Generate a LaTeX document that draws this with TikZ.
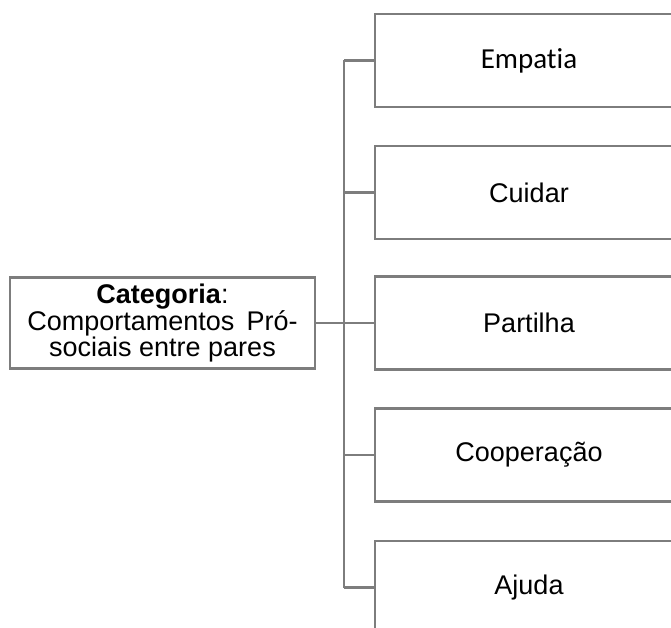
\documentclass[tikz,border=0pt]{standalone}
\usepackage{fontspec}
\setmainfont{Liberation Sans}
\newfontfamily\calibrifont[Ligatures=NoCommon]{Carlito}
\definecolor{linegray}{RGB}{125,125,125}
\begin{document}
\begin{tikzpicture}[x=1pt,y=1pt,
  conn/.style={draw=linegray,line width=2.1pt},
  catbox/.style={draw=linegray,line width=2.1pt,fill=white,inner sep=0pt,
    minimum width=305pt,minimum height=91pt,align=center,
    font=\fontsize{27}{25}\selectfont},
  itembox/.style={draw=linegray,line width=2.1pt,fill=white,inner sep=0pt,
    minimum width=308pt,minimum height=93pt,
    font=\fontsize{27}{30}\selectfont}]
\useasboundingbox (0,0) rectangle (671,-628);
\clip (0,0) rectangle (671,-628);
\node[catbox] (cat) at (162.5,-323) {\textbf{Categoria}:\\Comportamentos\hspace{0.45em}Pró-\\sociais entre pares};
\node[itembox,font=\fontsize{29}{32}\selectfont\calibrifont] (emp) at (529,-60.5) {Empatia};
\node[itembox] (cui) at (529,-192.5) {Cuidar};
\node[itembox] (par) at (529,-323) {Partilha};
\node[itembox] (coo) at (529,-455) {Cooperação};
\node[itembox] (aju) at (529,-587.5) {Ajuda};
\draw[conn] (emp.west) -- ++(-30,0) coordinate (temp);
\draw[conn] (cui.west) -- ++(-30,0) coordinate (tcui);
\draw[conn] (coo.west) -- ++(-30,0) coordinate (tcoo);
\draw[conn] (aju.west) -- ++(-30,0) coordinate (taju);
\draw[conn] (cat.east) -- (par.west);
\draw[conn] (temp) -- (taju);
\end{tikzpicture}
\end{document}
